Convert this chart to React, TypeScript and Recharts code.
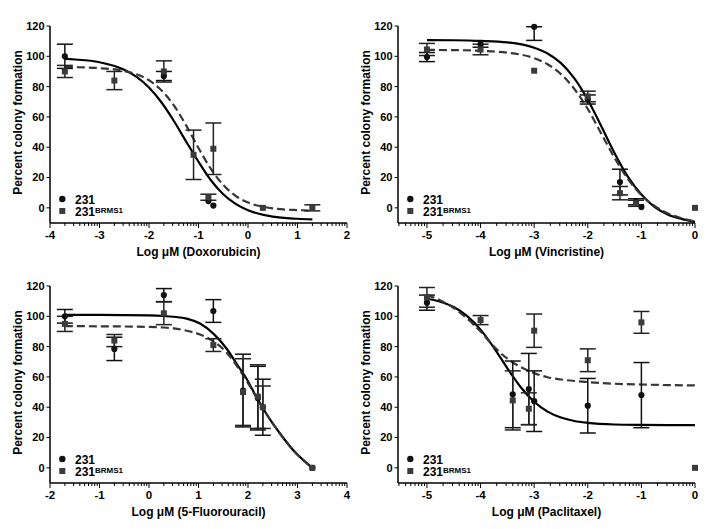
import React from "react";
import {
  ComposedChart,
  ErrorBar,
  Legend,
  Line,
  Scatter,
  XAxis,
  YAxis,
} from "recharts";

// [log dose, percent, error (sym or [low, high])]
type Pt = [number, number, (number | [number, number] | null)?];
type Fit = [number, number];

const FONT = '"Liberation Sans", Arial, Helvetica, sans-serif';
const C_231 = "#111111";
const C_BRMS1 = "#3b3b3b";

const SERIES_NAMES = ["231", "231"];
const SERIES_SUP = ["", "BRMS1"];
const Y_TICKS = [0, 20, 40, 60, 80, 100, 120];
const MINOR_STEPS = [2, 3, 4, 5, 6, 7, 8, 9];

// Doxorubicin
const DOX_231: Pt[] = [
  [-3.7, 100, 8],
  [-1.7, 87, 3],
  [-0.8, 4.5, null],
  [-0.7, 1.5, null],
];
const DOX_BRMS1: Pt[] = [
  [-3.7, 90, 4],
  [-2.7, 84, 6],
  [-1.7, 90, 7],
  [-1.1, 35, 16.3],
  [-0.8, 7, 2],
  [-0.7, 39, 17],
  [0.3, 0, null],
  [1.3, 0, 2],
];
const DOX_FIT_231: Fit[] = [
  [-3.7, 98.3], [-3.5, 97.9], [-3, 96.1], [-2.5, 91.1], [-2.25, 86.4],
  [-2, 79.4], [-1.75, 69.7], [-1.5, 57.5], [-1.25, 43.8], [-1, 30.4],
  [-0.75, 18.2], [-0.5, 9.0], [-0.25, 2.6], [0, -1.6], [0.5, -5.8],
  [1, -7.2], [1.3, -7.6],
];
const DOX_FIT_BRMS1: Fit[] = [
  [-3.7, 92.9], [-3.5, 92.8], [-3, 92.2], [-2.5, 90.3], [-2.25, 88.1],
  [-2, 84.2], [-1.75, 77.6], [-1.5, 67.7], [-1.25, 54.4], [-1, 39.5],
  [-0.75, 25.7], [-0.5, 15.1], [-0.25, 7.9], [0, 3.5], [0.3, 0.7],
  [0.5, -0.4], [1, -1.5], [1.3, -1.8],
];

// Vincristine
const VIN_231: Pt[] = [
  [-5, 99.5, 3],
  [-4, 108, 2],
  [-3, 119.5, [9, 0]],
  [-2, 71.5, 3],
  [-1.4, 17, 8.5],
  [-1.1, 4, 2],
  [-1, 0.5, null],
];
const VIN_BRMS1: Pt[] = [
  [-5, 104.5, 4],
  [-4, 104.5, 3.5],
  [-3, 90.5, null],
  [-2, 73.5, 3.5],
  [-1.4, 9.7, 4.4],
  [-1.1, 3, 2],
  [0, 0, null],
];
const VIN_FIT_231: Fit[] = [
  [-5, 110.7], [-4.5, 110.6], [-4, 110.2], [-3.5, 109.2], [-3, 105.7],
  [-2.75, 101.9], [-2.5, 95.5], [-2.25, 85.4], [-2, 71.3], [-1.75, 54.0],
  [-1.5, 36.0], [-1.25, 20.4], [-1, 8.8], [-0.75, 0.5], [-0.5, -4.5],
  [-0.25, -7.3], [0, -9.3],
];
const VIN_FIT_BRMS1: Fit[] = [
  [-5, 104.2], [-4.5, 104.1], [-4, 103.6], [-3.5, 102.4], [-3, 98.8],
  [-2.75, 94.8], [-2.5, 88.2], [-2.25, 78.4], [-2, 65.2], [-1.75, 49.1],
  [-1.5, 33.0], [-1.25, 19.0], [-1, 8.4], [-0.75, 1.2], [-0.5, -3.8],
  [-0.25, -6.8], [0, -9.0],
];

// 5-Fluorouracil
const FU_231: Pt[] = [
  [-1.7, 100, 4.5],
  [-0.7, 78.5, 7.7],
  [0.3, 114, 4.3],
  [1.3, 103.5, 7.5],
  [1.9, 51, 24],
  [2.2, 46, 21],
  [2.3, 40, 18.5],
  [3.3, 0, null],
];
const FU_BRMS1: Pt[] = [
  [-1.7, 95, 5],
  [-0.7, 84, 4],
  [0.3, 102, 7.5],
  [1.3, 81, 4.2],
  [1.9, 50, 22],
  [2.2, 47, 21],
  [2.3, 40, 14],
  [3.3, 0, null],
];
const FU_FIT_231: Fit[] = [
  [-1.7, 101], [-1, 101], [0, 100.6], [0.3, 100.2], [0.5, 99.7],
  [0.76, 98.5], [1.03, 95.2], [1.3, 88.6], [1.57, 78.6], [1.77, 68.7],
  [1.97, 58.8], [2.17, 46.7], [2.37, 35.7], [2.65, 22.5], [2.92, 11.4],
  [3.3, 0],
];
const FU_FIT_BRMS1: Fit[] = [
  [-1.7, 93.5], [-1, 93.4], [0, 93], [0.3, 92.6], [0.5, 92],
  [0.76, 90.5], [1.03, 88], [1.3, 83.5], [1.57, 76], [1.77, 67.5],
  [1.97, 57.5], [2.17, 46.5], [2.37, 35.7], [2.65, 22.5], [2.92, 11.4],
  [3.3, 0],
];

// Paclitaxel
const PTX_231: Pt[] = [
  [-5, 109, 5],
  [-3.4, 48.5, 22],
  [-3.1, 52, 23.5],
  [-3, 44, 20],
  [-2, 41, 18],
  [-1, 48, 21.5],
];
const PTX_BRMS1: Pt[] = [
  [-5, 112.5, 6.5],
  [-4, 97.5, 3],
  [-3.4, 44.5, 19.5],
  [-3.1, 39, 10.5],
  [-3, 90.5, 11],
  [-2, 71, 7.5],
  [-1, 96, 7.2],
  [0, 0, null],
];
const PTX_FIT_231: Fit[] = [
  [-5, 111.6], [-4.75, 109.6], [-4.5, 106.1], [-4.25, 100.1], [-4, 91.2],
  [-3.75, 79.2], [-3.5, 65.7], [-3.25, 53.2], [-3, 43.6], [-2.75, 37.1],
  [-2.5, 33.2], [-2.25, 30.9], [-2, 29.7], [-1.5, 28.6], [-1, 28.3],
  [-0.5, 28.2], [0, 28.2],
];
const PTX_FIT_BRMS1: Fit[] = [
  [-5, 114], [-4.75, 110.5], [-4.5, 105.5], [-4.25, 98.5], [-4, 90],
  [-3.75, 80], [-3.5, 72], [-3.25, 66.5], [-3, 62.5], [-2.75, 59.8],
  [-2.5, 58.3], [-2.25, 57.3], [-2, 56.6], [-1.5, 55.5], [-1, 55],
  [-0.5, 54.6], [0, 54.4],
];

const toPoints = (pts: Pt[]) =>
  pts.map(([x, y, err]) => ({ x, y, err: err ?? null }));
const toCurve = (pts: Fit[]) => pts.map(([x, y]) => ({ x, y }));

function logTicks(lo: number, hi: number) {
  const out: number[] = [];
  for (let d = Math.floor(lo); d <= Math.ceil(hi); d++) {
    if (d >= lo - 1e-9 && d <= hi + 1e-9) out.push(d);
    for (const k of MINOR_STEPS) {
      const v = d + Math.log10(k);
      if (v >= lo && v <= hi) out.push(v);
    }
  }
  return out;
}

const PANELS = [
  {
    id: "dox", left: 0, top: 0, width: 358, axisW: 50, right: 11,
    domain: [-4, 2], title: "Log μM (Doxorubicin)",
    a: DOX_231, b: DOX_BRMS1, fa: DOX_FIT_231, fb: DOX_FIT_BRMS1,
  },
  {
    id: "vin", left: 356, top: 0, width: 360, axisW: 42, right: 21,
    domain: [-5.54, 0], title: "Log μM (Vincristine)",
    a: VIN_231, b: VIN_BRMS1, fa: VIN_FIT_231, fb: VIN_FIT_BRMS1,
  },
  {
    id: "fu", left: 0, top: 260, width: 358, axisW: 50, right: 11,
    domain: [-2, 4], title: "Log μM (5-Fluorouracil)",
    a: FU_231, b: FU_BRMS1, fa: FU_FIT_231, fb: FU_FIT_BRMS1,
  },
  {
    id: "ptx", left: 356, top: 260, width: 360, axisW: 42, right: 21,
    domain: [-5.54, 0], title: "Log μM (Paclitaxel)",
    a: PTX_231, b: PTX_BRMS1, fa: PTX_FIT_231, fb: PTX_FIT_BRMS1,
  },
];

const CHART_H = 265;
const PLOT_TOP = 26;
const PLOT_BOTTOM = 223;
const XAXIS_H = 42;

function XTick(props: any) {
  const { x, y, payload } = props;
  const v = payload.value;
  const major = Math.abs(v - Math.round(v)) < 1e-6;
  return (
    <g>
      <line x1={x} x2={x} y1={y} y2={y + (major ? 5 : 3)} stroke="#000" strokeWidth={1} />
      {major && (
        <text
          x={x}
          y={y + 16}
          textAnchor="middle"
          fontSize={11.5}
          fontWeight={700}
          fontFamily={FONT}
          fill="#000"
        >
          {Math.round(v)}
        </text>
      )}
    </g>
  );
}

const circleShape = (props: any) => (
  <circle cx={props.cx} cy={props.cy} r={3.1} fill={C_231} />
);
const squareShape = (props: any) => (
  <rect x={props.cx - 3} y={props.cy - 3} width={6} height={6} fill={C_BRMS1} />
);

function LegendBox() {
  return (
    <svg width={90} height={30} style={{ display: "block", overflow: "visible" }}>
      <circle cx={6.3} cy={6} r={3.2} fill={C_231} />
      <text x={19} y={10.5} fontSize={12} fontWeight={700} fontFamily={FONT} fill="#000">
        {SERIES_NAMES[0]}
      </text>
      <rect x={3.3} y={15} width={6} height={6} fill={C_BRMS1} />
      <text x={19} y={22.5} fontSize={12} fontWeight={700} fontFamily={FONT} fill="#000">
        {SERIES_NAMES[1]}
        <tspan fontSize={8} dy={-3}>
          {SERIES_SUP[1]}
        </tspan>
      </text>
    </svg>
  );
}

function Panel({ p }: { p: (typeof PANELS)[number] }) {
  const plotW = p.width - p.axisW - p.right;
  const cx = p.axisW + plotW / 2;
  const cy = (PLOT_TOP + PLOT_BOTTOM) / 2 - 2;
  const yTitleX = p.axisW - 32;
  return (
    <div style={{ position: "absolute", left: p.left, top: p.top }}>
      <ComposedChart
        width={p.width}
        height={CHART_H}
        margin={{
          top: PLOT_TOP,
          right: p.right,
          left: 0,
          bottom: CHART_H - PLOT_BOTTOM - XAXIS_H,
        }}
      >
        <XAxis
          type="number"
          dataKey="x"
          domain={p.domain}
          ticks={logTicks(p.domain[0], p.domain[1])}
          interval={0}
          tick={(props: any) => <XTick {...props} />}
          tickLine={false}
          tickSize={0}
          tickMargin={0}
          height={XAXIS_H}
          axisLine={{ stroke: "#000", strokeWidth: 1.5 }}
          label={() => (
            <text
              x={cx}
              y={PLOT_BOTTOM + 33}
              textAnchor="middle"
              fontSize={12}
              fontWeight={700}
              fontFamily={FONT}
              fill="#000"
            >
              {p.title}
            </text>
          )}
        />
        <YAxis
          type="number"
          dataKey="y"
          domain={[-10, 120]}
          ticks={Y_TICKS}
          interval={0}
          width={p.axisW}
          tickSize={3.5}
          tickMargin={2}
          tickLine={{ stroke: "#000", strokeWidth: 1 }}
          axisLine={{ stroke: "#000", strokeWidth: 1.5 }}
          tick={{ fill: "#000", fontSize: 11, fontWeight: 700, fontFamily: FONT }}
          label={() => (
            <text
              x={yTitleX}
              y={cy}
              transform={`rotate(-90 ${yTitleX} ${cy})`}
              textAnchor="middle"
              dominantBaseline="central"
              fontSize={12}
              fontWeight={700}
              fontFamily={FONT}
              fill="#000"
            >
              Percent colony formation
            </text>
          )}
        />
        <Legend
          layout="horizontal"
          align="center"
          verticalAlign="middle"
          content={() => <LegendBox />}
          wrapperStyle={{
            left: p.axisW + 6,
            top: PLOT_BOTTOM - 30,
            width: 90,
            height: 30,
          }}
        />
        <Line
          data={toCurve(p.fa)}
          dataKey="y"
          type="monotone"
          stroke="#000"
          strokeWidth={2.2}
          dot={false}
          activeDot={false}
          legendType="none"
          isAnimationActive={false}
        />
        <Line
          data={toCurve(p.fb)}
          dataKey="y"
          type="monotone"
          stroke="#363636"
          strokeWidth={2.2}
          strokeDasharray="8 4"
          dot={false}
          activeDot={false}
          legendType="none"
          isAnimationActive={false}
        />
        <Scatter
          name="231"
          data={toPoints(p.a)}
          dataKey="y"
          shape={circleShape}
          isAnimationActive={false}
        >
          <ErrorBar dataKey="err" direction="y" width={8} stroke="#111" strokeWidth={1.5} />
        </Scatter>
        <Scatter
          name="231 BRMS1"
          data={toPoints(p.b)}
          dataKey="y"
          shape={squareShape}
          isAnimationActive={false}
        >
          <ErrorBar dataKey="err" direction="y" width={8} stroke="#222" strokeWidth={1.5} />
        </Scatter>
      </ComposedChart>
    </div>
  );
}

export default function App() {
  return (
    <div
      style={{
        position: "absolute",
        left: 0,
        top: 0,
        width: 716,
        height: 529,
        background: "#fff",
        overflow: "hidden",
      }}
    >
      {PANELS.map((p) => (
        <Panel key={p.id} p={p} />
      ))}
    </div>
  );
}
